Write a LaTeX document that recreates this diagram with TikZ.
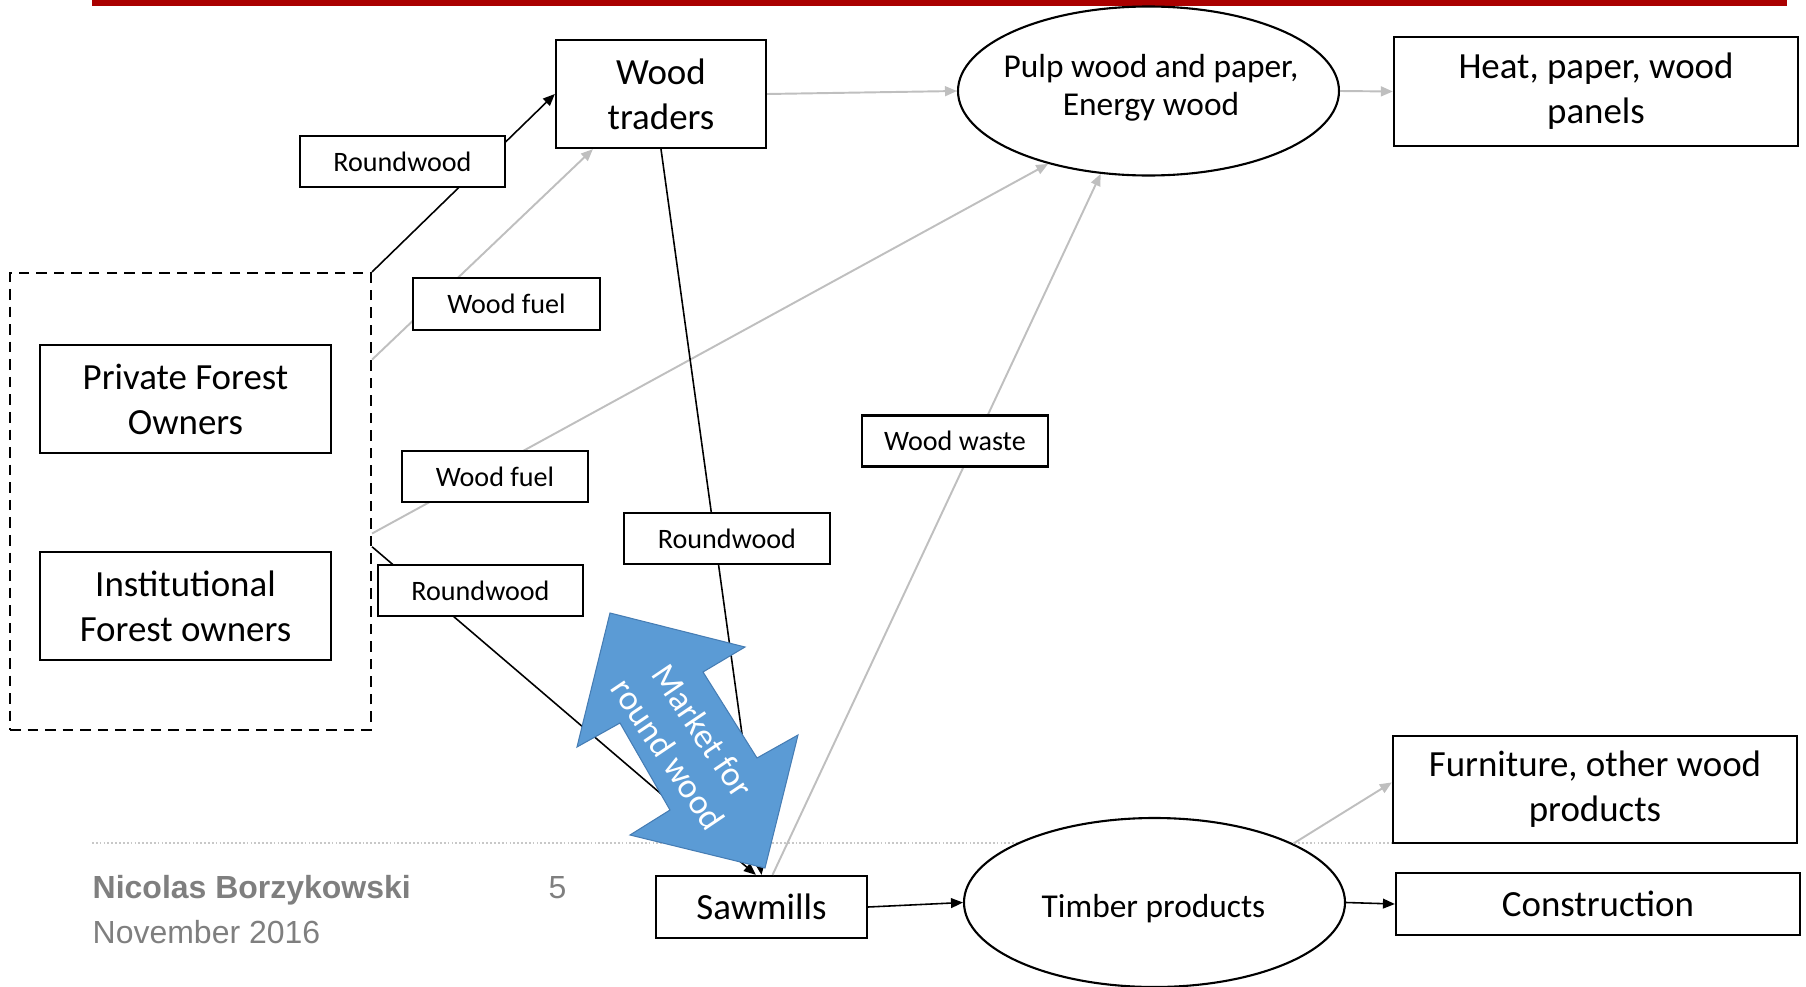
\documentclass[tikz,border=0pt]{standalone}
\usepackage{fontspec}
\setmainfont{Carlito}
\newfontfamily\footfont{Liberation Sans}
\usepackage{xcolor}
\usetikzlibrary{arrows.meta,shapes.geometric}

\definecolor{titlered}{RGB}{170,0,0}
\definecolor{linkgray}{RGB}{191,191,191}
\definecolor{rulegray}{RGB}{200,200,200}
\definecolor{marketblue}{RGB}{91,155,213}
\definecolor{marketedge}{RGB}{70,125,180}
\definecolor{footgray}{RGB}{127,127,127}

\begin{document}
\begin{tikzpicture}[
  bigbox/.style={draw, line width=0.65pt, fill=white, align=center, inner sep=0pt,
    font=\fontsize{10.5}{12.8}\selectfont},
  tagbox/.style={draw, line width=0.6pt, fill=white, inner sep=0pt, minimum height=0.51cm,
    font=\fontsize{8}{9.6}\selectfont},
  ovalnode/.style={draw, ellipse, line width=0.6pt, fill=white, inner sep=0pt,
    minimum width=3.81cm, minimum height=1.69cm},
  ovaltext/.style={align=center, inner sep=0pt, font=\fontsize{9.5}{10.8}\selectfont},
  blackarrow/.style={line width=0.45pt, -{Triangle[length=3.4pt,width=2.8pt]}},
  grayarrow/.style={blackarrow, draw=linkgray, line width=0.55pt},
  foottext/.style={anchor=base west, inner sep=0pt, text=footgray,
    font=\footfont\fontsize{9.1}{11}\selectfont},
]
  % Page frame and title rule
  \useasboundingbox (0,0) rectangle (18.06,9.86);
  \fill[titlered] (0.92,9.80) rectangle (17.87,9.86);

  % Footer rule
  \coordinate (rulestart) at (0.92,1.43);
  \coordinate (ruleend) at (13.93,1.43);
  \draw[rulegray, line width=0.4pt, dash pattern=on 0.5pt off 0.6pt] (rulestart) -- (ruleend);

  % Forest owners
  \node[draw, line width=0.6pt, dash pattern=on 3pt off 2pt, minimum width=3.61cm,
    minimum height=4.57cm, inner sep=0pt] (owners) at (1.905,4.845) {};
  \node[bigbox, minimum width=2.91cm, minimum height=1.08cm] (private) at (1.855,5.87) {Private Forest\\Owners};
  \node[bigbox, minimum width=2.91cm, minimum height=1.08cm] (institutional) at (1.855,3.80) {Institutional\\Forest owners};

  % Industry and end uses
  \node[bigbox, minimum width=2.10cm, minimum height=1.08cm] (traders) at (6.61,8.92) {Wood\\traders};
  \node[bigbox, minimum width=2.11cm, minimum height=0.62cm] (sawmills) at (7.615,0.79) {Sawmills};
  \node[ovalnode] (pulp) at (11.485,8.95) {};
  \node[ovaltext] (pulptext) at (11.51,8.98) {Pulp wood and paper,\\Energy wood};
  \node[ovalnode] (timber) at (11.545,0.835) {};
  \node[ovaltext] (timbertext) at (11.535,0.77) {Timber products};
  \node[bigbox, minimum width=4.04cm, minimum height=1.09cm] (heat) at (15.96,8.945) {Heat, paper, wood\\panels};
  \node[bigbox, minimum width=4.04cm, minimum height=1.07cm] (furniture) at (15.95,1.965) {Furniture, other wood\\products};
  \node[bigbox, minimum width=4.04cm, minimum height=0.62cm] (construction) at (15.98,0.82) {Construction};

  % Flows
  \draw[blackarrow] (owners.north east) -- (traders.west);
  \draw[grayarrow] (owners.38) -- (traders.219);
  \draw[grayarrow] (owners.-10) -- (pulp.216);
  \draw[blackarrow] (owners.-14) -- (sawmills.100);
  \draw[blackarrow] (traders.south) -- (sawmills.north);
  \draw[grayarrow] (sawmills.71) -- (pulp.240);
  \draw[grayarrow] (traders.east) -- (pulp.west);
  \draw[grayarrow] (pulp.east) -- (heat.west);
  \draw[blackarrow] (sawmills.east) -- (timber.west);
  \draw[blackarrow] (timber.east) -- (construction.west);
  \draw[grayarrow] (timber.23) -- (furniture.178);

  % Flow labels
  \node[tagbox, minimum width=2.05cm] (rwtop) at (4.025,8.245) {Roundwood};
  \node[tagbox, minimum width=1.87cm, minimum height=0.52cm] (fueltop) at (5.065,6.82) {Wood fuel};
  \node[tagbox, minimum width=1.86cm] (fuellow) at (4.95,5.095) {Wood fuel};
  \node[tagbox, minimum width=2.05cm] (rwlow) at (4.805,3.955) {Roundwood};
  \node[tagbox, minimum width=2.06cm] (rwmid) at (7.27,4.475) {Roundwood};
  \node[tagbox, minimum width=1.86cm] (waste) at (9.55,5.45) {Wood waste};

  % Market for round wood
  \filldraw[fill=marketblue, draw=marketedge, line width=0.3pt]
    (6.10,3.73) -- (7.45,3.39) -- (7.03,3.14) -- (7.57,2.28) -- (7.98,2.51)
    -- (7.65,1.18) -- (6.30,1.51) -- (6.70,1.76) -- (6.20,2.63) -- (5.77,2.39) -- cycle;
  \node[rotate=-56, align=center, text=white, inner sep=0pt,
    font=\fontsize{10}{11.9}\selectfont] (markettext) at (6.857,2.435) {Market for\\round wood};

  % Footer
  \node[foottext, font=\footfont\bfseries\fontsize{9.1}{11}\selectfont] (author) at (0.92,0.88) {Nicolas Borzykowski};
  \node[foottext] (pagenum) at (5.48,0.88) {5};
  \node[foottext] (date) at (0.92,0.43) {November 2016};
\end{tikzpicture}
\end{document}
